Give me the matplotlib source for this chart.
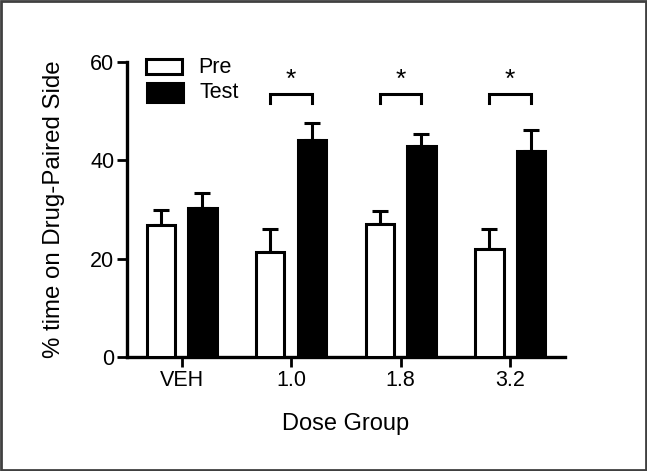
import numpy as np
import matplotlib.pyplot as plt
from matplotlib.patches import Rectangle

plt.rcParams['font.family'] = ['Liberation Sans', 'DejaVu Sans']

groups = ['VEH', '1.0', '1.8', '3.2']
pre = [26.8, 21.4, 27.0, 21.9]
pre_err = [3.2, 4.6, 2.7, 4.2]
test = [30.3, 44.1, 42.9, 41.9]
test_err = [3.1, 3.5, 2.5, 4.2]
sig = [False, True, True, True]

fig = plt.figure(figsize=(6.47, 4.71), dpi=100)
ax = fig.add_axes([0.196, 0.242, 0.677, 0.626])

x = np.arange(len(groups))
w = 0.26
off = 0.19
lw = 2.2

ax.bar(x - off, pre, w, color='white', edgecolor='black', linewidth=lw, zorder=3)
ax.bar(x + off, test, w, color='black', edgecolor='black', linewidth=lw, zorder=3)
ax.errorbar(x - off, pre, yerr=[np.zeros(4), pre_err], fmt='none', ecolor='black',
            elinewidth=lw, capsize=6, capthick=lw, zorder=2)
ax.errorbar(x + off, test, yerr=[np.zeros(4), test_err], fmt='none', ecolor='black',
            elinewidth=lw, capsize=6, capthick=lw, zorder=2)

# significance brackets
for i, s in enumerate(sig):
    if not s:
        continue
    ax.plot([i - off, i - off, i + off, i + off], [51.7, 53.6, 53.6, 51.7],
            color='black', lw=lw, solid_joinstyle='miter', clip_on=False)
    ax.text(i, 54.0, '*', ha='center', va='bottom', fontsize=19)

ax.set_xlim(-0.5, 3.5)
ax.set_ylim(0, 60)
ax.set_yticks([0, 20, 40, 60])
ax.set_xticks(x)
ax.set_xticklabels(groups)
for s in ['top', 'right']:
    ax.spines[s].set_visible(False)
for s in ['left', 'bottom']:
    ax.spines[s].set_linewidth(2.4)
ax.tick_params(width=2, length=7, labelsize=15.5, pad=2)
ax.set_ylabel('% time on Drug-Paired Side', fontsize=17.3, labelpad=18)
ax.set_xlabel('Dose Group', fontsize=17, labelpad=16)

# legend drawn by hand
ax.add_patch(Rectangle((0.044, 0.959), 0.082, 0.051, transform=ax.transAxes,
                       facecolor='white', edgecolor='black', lw=lw, clip_on=False))
ax.add_patch(Rectangle((0.046, 0.866), 0.082, 0.064, transform=ax.transAxes,
                       facecolor='black', edgecolor='black', lw=lw, clip_on=False))
ax.text(0.162, 0.983, 'Pre', transform=ax.transAxes, va='center', fontsize=15.5)
ax.text(0.166, 0.896, 'Test', transform=ax.transAxes, va='center', fontsize=15.5)

fig.patches.append(Rectangle((0.002, 0.003), 0.996, 0.994, transform=fig.transFigure,
                             fill=False, edgecolor='#404040', lw=2))

fig.savefig('out.png', dpi=100)
